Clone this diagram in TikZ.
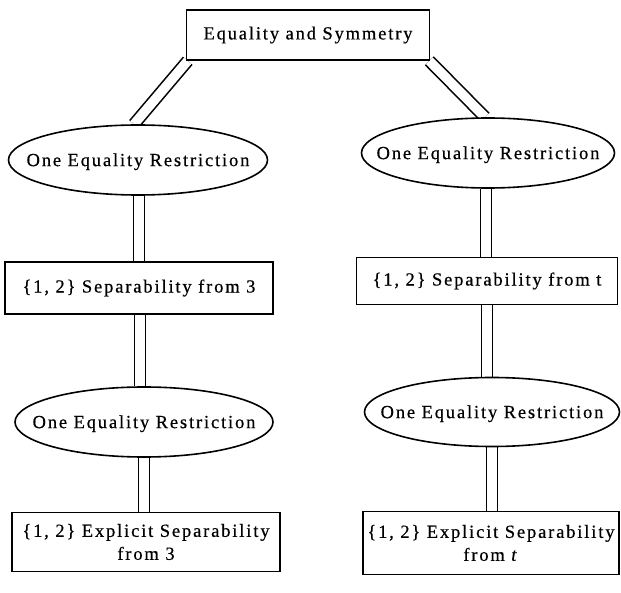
\documentclass[tikz,border=0pt]{standalone}
\usepackage{fontspec}
\setmainfont{Liberation Serif}[LetterSpace=10,FakeBold=0.5]
\usetikzlibrary{shapes.geometric,backgrounds}
\newcommand\ovaltext[1]{\smash{\makebox[0pt]{\raisebox{-0.33em}{#1}}}}
\begin{document}
\begin{tikzpicture}[x=1pt,y=-1pt,
 box/.style={draw,line width=1.6pt,fill=white,rectangle,inner sep=0pt,align=center,font=\fontsize{18.5}{23}\selectfont},
 oval/.style={draw,line width=1.6pt,fill=white,ellipse,inner sep=0pt,font=\fontsize{18.5}{23}\selectfont},
 dbl/.style={draw,line width=1.6pt,double,double distance=9.5pt}]
\useasboundingbox (0,0) rectangle (621,593);
\node[box,minimum width=243pt,minimum height=50pt] (top) at (308,35) {Equality and Symmetry};
\node[oval,minimum width=259pt,minimum height=70pt] (l1) at (138,160) {\ovaltext{One Equality Restriction}};
\node[oval,minimum width=253pt,minimum height=70pt] (r1) at (488,153) {\ovaltext{One Equality Restriction}};
\node[box,minimum width=268pt,minimum height=52pt] (lb1) at (139,288) {\{1, 2\} Separability from 3};
\node[box,minimum width=261pt,minimum height=47pt] (rb1) at (487,281) {\{1, 2\} Separability from t};
\node[oval,minimum width=258pt,minimum height=70pt] (l2) at (144,422) {\ovaltext{One Equality Restriction}};
\node[oval,minimum width=255pt,minimum height=69pt] (r2) at (492,412) {\ovaltext{One Equality Restriction}};
\node[box,minimum width=268pt,minimum height=59pt] (lb2) at (146,542) {\{1, 2\} Explicit Separability\\from 3};
\node[box,minimum width=256pt,minimum height=63pt] (rb2) at (491,543) {\{1, 2\} Explicit Separability\\from \textit{t}};
\begin{pgfonlayer}{background}
\draw[dbl] ([xshift=2pt]top.south west) -- ([xshift=-4pt]l1.north);
\draw[dbl] ([xshift=-1pt]top.south east) -- ([xshift=-3pt]r1.north);
\draw[dbl] ([xshift=1pt]l1.south) -- ([xshift=1pt]l1.south |- lb1.north);
\draw[dbl] ([xshift=1pt]lb1.south) -- ([xshift=1pt]lb1.south |- l2.north);
\draw[dbl] (l2.south) -- (l2.south |- lb2.north);
\draw[dbl] ([xshift=-2pt]r1.south) -- ([xshift=-2pt]r1.south |- rb1.north);
\draw[dbl] (rb1.south) -- (rb1.south |- r2.north);
\draw[dbl] (r2.south) -- (r2.south |- rb2.north);
\end{pgfonlayer}
\end{tikzpicture}
\end{document}
